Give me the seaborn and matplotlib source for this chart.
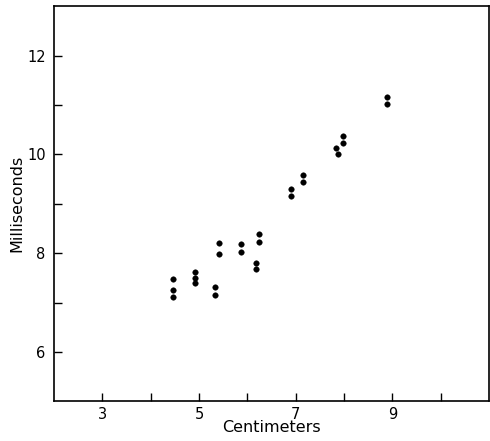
import matplotlib
matplotlib.use("Agg")
import matplotlib.pyplot as plt
import seaborn as sns
import pandas as pd
from matplotlib.ticker import FixedLocator

# Data
centimeters = [4.47, 4.47, 4.47, 4.92, 4.92, 4.92, 5.33, 5.33, 5.42, 5.42,
               5.86, 5.86, 6.17, 6.17, 6.25, 6.25, 6.91, 6.91, 7.16, 7.16,
               7.83, 7.88, 7.97, 7.99, 8.90, 8.90]
milliseconds = [7.47, 7.25, 7.11, 7.62, 7.50, 7.39, 7.31, 7.16, 8.20, 7.99,
                8.18, 8.03, 7.81, 7.67, 8.38, 8.23, 9.29, 9.15, 9.58, 9.44,
                10.13, 10.00, 10.37, 10.23, 11.17, 11.02]
x_major = [3, 5, 7, 9]
x_minor = [4, 6, 8, 10]
y_major = [6, 8, 10, 12]
y_minor = [7, 9, 11]

df = pd.DataFrame({"Centimeters": centimeters, "Milliseconds": milliseconds})

sns.set_theme(style="white")
plt.rcParams["font.family"] = ["DejaVu Sans"]

fig = plt.figure(figsize=(4.9, 4.41), dpi=100)
ax = fig.add_axes([0.110, 0.090, 0.888, 0.896])

sns.scatterplot(data=df, x="Centimeters", y="Milliseconds", ax=ax,
                color="black", s=16, edgecolor="black", linewidth=0.3)

ax.set_xlim(2, 11)
ax.set_ylim(5, 13)
ax.xaxis.set_major_locator(FixedLocator(x_major))
ax.xaxis.set_minor_locator(FixedLocator(x_minor))
ax.yaxis.set_major_locator(FixedLocator(y_major))
ax.yaxis.set_minor_locator(FixedLocator(y_minor))
ax.set_xticklabels([str(v) for v in x_major])
ax.set_yticklabels([str(v) for v in y_major])

ax.tick_params(axis="both", which="both", direction="in", length=6, width=1.0,
               color="black", labelsize=10.5, labelcolor="black")
ax.tick_params(axis="x", which="both", pad=4, bottom=True, top=False)
ax.tick_params(axis="y", which="both", pad=6, left=True, right=False)

for sp in ax.spines.values():
    sp.set_visible(True)
    sp.set_color("black")
    sp.set_linewidth(1.2)

ax.set_xlabel("Centimeters", fontsize=11.5, color="black", labelpad=-1)
ax.set_ylabel("Milliseconds", fontsize=11.5, color="black", labelpad=2)

fig.savefig("out.png", dpi=100, facecolor="white")
